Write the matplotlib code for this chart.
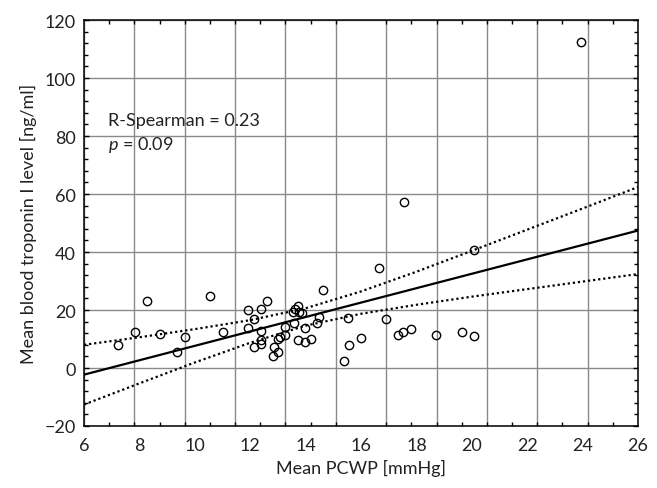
import numpy as np
import matplotlib
matplotlib.use("Agg")
import matplotlib.pyplot as plt

plt.rcParams["font.family"] = ["Lato", "DejaVu Sans"]
plt.rcParams["mathtext.fontset"] = "custom"
plt.rcParams["mathtext.rm"] = "Lato"
plt.rcParams["mathtext.it"] = "Lato:italic"

# values
pcwp = [7.24, 7.84, 8.29, 8.74, 9.35, 9.65, 10.55, 11.03, 11.93, 11.93,
        12.14, 12.38, 12.62, 12.38, 12.38, 12.38, 12.14, 12.85, 12.81, 12.99,
        12.99, 13.08, 13.27, 13.27, 13.53, 13.62, 13.74, 13.77, 13.86, 13.58,
        13.98, 13.74, 13.98, 14.18, 14.40, 14.50, 14.64, 15.54, 15.55, 15.40,
        16.00, 16.65, 16.90, 17.35, 17.50, 17.80, 18.70, 17.55, 19.63, 20.08,
        20.08, 23.93]
troponin = [7.9, 12.3, 23.0, 11.7, 5.4, 10.6, 24.9, 12.3, 20.1, 13.8,
            16.9, 20.3, 23.2, 12.9, 9.8, 8.3, 7.1, 7.2, 4.2, 10.0,
            5.6, 10.6, 14.0, 11.4, 19.4, 20.3, 21.3, 19.4, 19.0, 15.5,
            13.7, 9.6, 8.9, 10.1, 15.6, 17.5, 27.0, 17.1, 7.9, 2.5,
            10.5, 34.4, 16.9, 11.5, 12.5, 13.4, 11.5, 57.4, 12.5, 11.0,
            40.8, 112.4]

fit_x = [6, 26]
fit_y = [-2.3, 47.4]

band_x = [6, 8, 10, 12, 14, 16, 18, 20, 22, 24, 26]
band_upper = [8.0, 10.6, 13.4, 16.5, 20.6, 26.4, 33.2, 40.4, 47.7, 55.0, 62.4]
band_lower = [-12.6, -5.3, 1.9, 8.7, 14.6, 18.7, 21.8, 24.6, 27.2, 29.8, 32.4]

x_ticks = [6, 8, 10, 12, 14, 16, 18, 20, 22, 24, 26]
y_ticks = [-20, 0, 20, 40, 60, 80, 100, 120]

fig = plt.figure(figsize=(6.57, 4.89), dpi=100)
ax = fig.add_axes([84 / 657, 62 / 489, 554 / 657, 406 / 489])

# grid in the picture has 11 intervals across the axis
grid_x = np.linspace(6, 26, 12)
for gx in grid_x:
    ax.axvline(gx, color="#8a8a8a", lw=1.0, zorder=0)
for gy in y_ticks:
    ax.axhline(gy, color="#8a8a8a", lw=1.0, zorder=0)

ax.plot(fit_x, fit_y, color="black", lw=1.6, zorder=2)
ax.plot(band_x, band_upper, color="black", lw=1.6, ls=(0, (1, 1.3)), zorder=2)
ax.plot(band_x, band_lower, color="black", lw=1.6, ls=(0, (1, 1.3)), zorder=2)
ax.plot(pcwp, troponin, "o", mfc="none", mec="black", ms=6, mew=1.0, zorder=3)

ax.set_xlim(6, 26)
ax.set_ylim(-20, 120)
ax.set_xticks(x_ticks)
ax.set_xticks(np.linspace(6, 26, 23), minor=True)
ax.set_yticks(y_ticks)
ax.set_yticks(np.arange(-20, 121, 4), minor=True)

ax.tick_params(axis="x", which="major", length=0, pad=8, labelsize=13, colors="#222222")
ax.tick_params(axis="y", which="major", direction="in", length=3.5, width=1,
               left=True, right=True, pad=6, labelsize=13, labelcolor="#222222")
ax.tick_params(which="minor", direction="in", length=2.8, width=1,
               top=True, bottom=True, left=True, right=True)

for s in ax.spines.values():
    s.set_linewidth(1.1)
    s.set_color("black")

ax.text(6.85, 85.5, "R-Spearman = 0.23", fontsize=13, va="center", color="#222222")
ax.text(6.85, 77.3, "$p$ = 0.09", fontsize=13, va="center", color="#222222")

ax.set_xlabel("Mean PCWP [mmHg]", fontsize=13, color="#222222", labelpad=4)
ax.set_ylabel("Mean blood troponin I level [ng/ml]", fontsize=13, color="#222222", labelpad=5)

fig.savefig("out.png", dpi=100)
